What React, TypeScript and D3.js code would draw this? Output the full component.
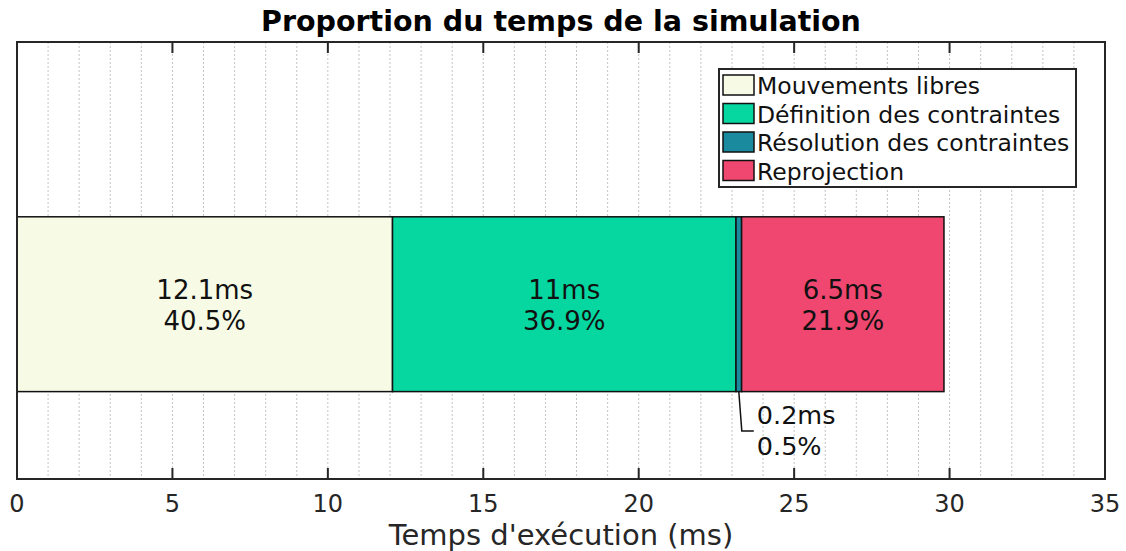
import React from "react";
import * as d3 from "d3";

const categories = ["Mouvements libres", "Définition des contraintes", "Résolution des contraintes", "Reprojection"];
const durations = [12.08, 11.05, 0.18, 6.51];
const msLabels = ["12.1ms", "11ms", "0.2ms", "6.5ms"];
const pctLabels = ["40.5%", "36.9%", "0.5%", "21.9%"];
const colors = ["#F7FBE6", "#06D6A0", "#1A8A9E", "#EF476F"];
const xTicks = [0, 5, 10, 15, 20, 25, 30, 35];
const xDomain = [0, 35];

const W = 1126, H = 551;
const left = 17, right = 1105, top = 42, bottom = 479;
const FONT = "'DejaVu Sans', sans-serif";

export default function App() {
  const x = d3.scaleLinear().domain(xDomain).range([left, right]);
  const y = d3.scaleLinear().domain([0, 1]).range([bottom, top]);
  const barY0 = y(0.6), barY1 = y(0.2);
  const starts = d3.cumsum([0, ...durations]);
  const grid = d3.range(1, 35);
  const segs = durations.map((d, i) => ({ x0: starts[i], x1: starts[i] + d, i }));
  const small = segs[2];
  const sx = x((small.x0 + small.x1) / 2);

  return (
    <svg width={W} height={H} style={{ display: "block", position: "absolute", left: 0, top: 0 }} fontFamily={FONT}>
      <rect width={W} height={H} fill="#fff" />
      {grid.map((g) => (
        <line key={g} x1={x(g)} x2={x(g)} y1={top} y2={bottom} stroke="#c4c4c4" strokeWidth={1} strokeDasharray="2,2" />
      ))}
      {segs.map((s) => (
        <rect key={s.i} x={x(s.x0)} y={barY0} width={x(s.x1) - x(s.x0)} height={barY1 - barY0}
          fill={colors[s.i]} stroke="#111" strokeWidth={1.5} />
      ))}
      {segs.filter((s) => s.i !== 2).map((s) => {
        const cx = x((s.x0 + s.x1) / 2);
        return (
          <g key={s.i} fontSize={26} textAnchor="middle" fill="#111">
            <text x={cx} y={299}>{msLabels[s.i]}</text>
            <text x={cx} y={330}>{pctLabels[s.i]}</text>
          </g>
        );
      })}
      <path d={`M${sx},${barY1} L${sx + 3},${431} L${sx + 15},${431}`} fill="none" stroke="#111" strokeWidth={1.5} />
      <text x={sx + 18} y={424} fontSize={25.5} fill="#111">{msLabels[2]}</text>
      <text x={sx + 18} y={455} fontSize={25.5} fill="#111">{pctLabels[2]}</text>

      <rect x={left} y={top} width={right - left} height={bottom - top} fill="none" stroke="#262626" strokeWidth={2} />
      {xTicks.map((t) => (
        <g key={t}>
          <line x1={x(t)} x2={x(t)} y1={bottom} y2={bottom - 11} stroke="#262626" strokeWidth={2} />
          <line x1={x(t)} x2={x(t)} y1={top} y2={top + 11} stroke="#262626" strokeWidth={2} />
          <text x={x(t)} y={512} fontSize={24} textAnchor="middle" fill="#262626">{t}</text>
        </g>
      ))}
      <text x={(left + right) / 2} y={545} fontSize={29} textAnchor="middle" fill="#262626">Temps d'exécution (ms)</text>
      <text x={(left + right) / 2} y={31} fontSize={28.5} fontWeight="bold" textAnchor="middle" fill="#000">Proportion du temps de la simulation</text>

      <g>
        <rect x={719} y={69} width={357} height={118} fill="#fff" stroke="#262626" strokeWidth={2} />
        {categories.map((c, i) => (
          <g key={c} transform={`translate(0, ${75 + i * 28.5})`}>
            <rect x={723} y={0} width={31} height={20} fill={colors[i]} stroke="#111" strokeWidth={1.5} />
            <text x={757} y={19} fontSize={23.5} fill="#111">{c}</text>
          </g>
        ))}
      </g>
    </svg>
  );
}
